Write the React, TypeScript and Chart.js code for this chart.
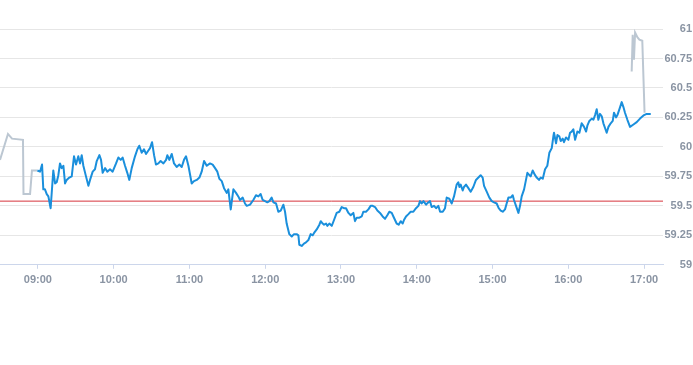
import React, { useEffect, useRef } from "react";
import { Chart, registerables } from "chart.js";

Chart.register(...registerables);

// Minutes since midnight and prices
const preMarketTimes = [510, 516.3, 519.5, 528.2, 528.6, 533.8, 535.3, 539.6];
const preMarketPrices = [59.89, 60.11, 60.07, 60.06, 59.6, 59.6, 59.8, 59.8];

const sessionTimes = [
  539.6, 541.7, 543.3, 544.3, 545.6, 547.0, 548.3, 550.1, 552.2, 553.6, 554.9, 556.2, 557.5, 558.8, 560.2, 561.5,
  562.8, 564.9, 566.8, 568.6, 570.2, 572.0, 573.4, 574.7, 576.0, 578.1, 580.0, 581.3, 583.4, 585.2, 586.6, 588.7,
  590.0, 591.3, 593.2, 595.0, 597.1, 599.2, 601.9, 603.7, 605.6, 607.1, 609.0, 610.8, 612.4, 614.3, 616.9, 618.8,
  620.3, 622.2, 624.0, 625.6, 627.5, 628.8, 630.4, 632.0, 633.5, 635.4, 637.2, 639.4, 641.5, 642.5, 644.1, 646.0,
  647.8, 649.9, 652.0, 653.9, 655.7, 657.3, 659.2, 661.8, 663.6, 665.8, 667.9, 669.7, 671.6, 673.7, 676.3, 678.4,
  680.3, 682.1, 683.7, 685.6, 687.4, 689.5, 690.8, 692.7, 694.8, 696.9, 698.7, 700.1, 702.2, 704.0, 705.4, 708.0,
  710.6, 712.7, 714.6, 716.4, 718.0, 719.9, 721.7, 723.3, 725.1, 726.5, 728.6, 730.4, 732.3, 734.4, 735.7, 737.0,
  739.1, 741.0, 742.8, 744.9, 746.3, 747.0, 748.9, 750.7, 752.3, 754.2, 756.0, 757.6, 758.7, 760.8, 762.9, 764.0,
  765.5, 766.6, 768.2, 769.2, 770.8, 772.7, 774.5, 776.6, 778.7, 780.6, 782.4, 784.0, 785.9, 787.7, 789.8, 791.1,
  792.5, 794.6, 796.4, 797.7, 799.8, 801.7, 803.5, 805.1, 807.0, 808.8, 810.9, 813.0, 814.9, 816.7, 818.3, 820.2,
  821.5, 822.8, 824.1, 825.7, 827.3, 828.9, 829.9, 831.5, 833.4, 835.2, 837.3, 839.4, 841.3, 842.6, 843.9, 845.3,
  847.4, 849.2, 850.5, 851.8, 853.7, 855.3, 857.1, 858.5, 860.6, 862.4, 863.7, 865.8, 867.7, 869.5, 871.6, 872.9,
  873.8, 874.8, 876.4, 877.4, 879.0, 880.9, 882.7, 884.8, 886.9, 888.8, 890.6, 892.2, 893.3, 895.4, 897.5, 899.4,
  901.2, 903.3, 904.9, 906.5, 908.1, 909.9, 911.2, 912.6, 914.4, 916.0, 917.0, 918.6, 920.5, 921.8, 923.1, 925.0,
  926.5, 927.6, 929.2, 930.2, 931.8, 933.7, 935.0, 936.8, 938.2, 939.8, 941.6, 943.4, 945.0, 946.9, 948.2, 948.7,
  950.3, 951.4, 952.9, 954.0, 955.6, 956.6, 958.2, 960.1, 961.4, 962.7, 964.0, 965.4, 967.2, 968.8, 970.6, 972.5,
  974.1, 975.1, 976.7, 978.6, 979.9, 981.2, 982.5, 983.8, 985.1, 986.5, 987.8, 989.1, 990.4, 991.8, 993.6, 995.2,
  996.2, 997.8, 998.9, 1000.5, 1002.3, 1003.6, 1004.9, 1006.8, 1008.9, 1011.6, 1014.2, 1016.8, 1020.0, 1022.1, 1025.3,
];
const sessionPrices = [
  59.8, 59.79, 59.85, 59.64, 59.64, 59.6, 59.58, 59.48, 59.8, 59.69, 59.7, 59.76, 59.86, 59.82, 59.84, 59.69,
  59.72, 59.74, 59.75, 59.92, 59.85, 59.92, 59.86, 59.93, 59.84, 59.75, 59.67, 59.72, 59.79, 59.81, 59.88, 59.93,
  59.89, 59.78, 59.82, 59.79, 59.81, 59.79, 59.86, 59.91, 59.89, 59.91, 59.84, 59.78, 59.72, 59.82, 59.92, 59.98,
  60.01, 59.95, 59.98, 59.94, 59.97, 59.99, 60.04, 59.93, 59.85, 59.86, 59.88, 59.86, 59.89, 59.93, 59.89, 59.94,
  59.86, 59.83, 59.85, 59.83, 59.89, 59.92, 59.84, 59.69, 59.71, 59.72, 59.74, 59.79, 59.88, 59.84, 59.86, 59.85,
  59.82, 59.79, 59.73, 59.71, 59.65, 59.61, 59.64, 59.47, 59.64, 59.61, 59.58, 59.55, 59.57, 59.52, 59.5, 59.51,
  59.55, 59.59, 59.58, 59.6, 59.55, 59.54, 59.53, 59.54, 59.57, 59.53, 59.52, 59.45, 59.46, 59.51, 59.45, 59.35,
  59.26, 59.24, 59.26, 59.26, 59.25, 59.17, 59.16, 59.18, 59.19, 59.21, 59.26, 59.25, 59.27, 59.3, 59.34, 59.37,
  59.35, 59.34, 59.35, 59.33, 59.35, 59.33, 59.38, 59.44, 59.45, 59.49, 59.48, 59.48, 59.44, 59.42, 59.44, 59.37,
  59.4, 59.4, 59.41, 59.45, 59.45, 59.47, 59.5, 59.5, 59.49, 59.46, 59.44, 59.41, 59.39, 59.42, 59.45, 59.44,
  59.41, 59.38, 59.35, 59.34, 59.37, 59.35, 59.38, 59.41, 59.43, 59.45, 59.45, 59.48, 59.5, 59.54, 59.52, 59.54,
  59.51, 59.53, 59.54, 59.49, 59.5, 59.48, 59.5, 59.45, 59.45, 59.48, 59.57, 59.56, 59.52, 59.58, 59.68, 59.7,
  59.66, 59.68, 59.63, 59.66, 59.68, 59.65, 59.62, 59.66, 59.72, 59.74, 59.76, 59.74, 59.67, 59.62, 59.57, 59.54,
  59.53, 59.52, 59.48, 59.46, 59.45, 59.47, 59.52, 59.57, 59.57, 59.59, 59.55, 59.5, 59.44, 59.5, 59.58, 59.64,
  59.72, 59.78, 59.76, 59.75, 59.8, 59.76, 59.74, 59.72, 59.74, 59.73, 59.81, 59.84, 59.95, 59.99, 60.09, 60.12,
  60.03, 60.1, 60.09, 60.05, 60.07, 60.04, 60.08, 60.06, 60.12, 60.13, 60.15, 60.06, 60.13, 60.12, 60.2, 60.17,
  60.13, 60.18, 60.22, 60.24, 60.23, 60.27, 60.32, 60.23, 60.28, 60.26, 60.2, 60.16, 60.12, 60.17, 60.2, 60.22,
  60.29, 60.25, 60.27, 60.32, 60.38, 60.34, 60.29, 60.23, 60.17, 60.19, 60.21, 60.24, 60.27, 60.28, 60.28,
];

const afterHoursTimes = [1010.2, 1011.0, 1012.0, 1012.9, 1014.7, 1016.3, 1018.6, 1020.4];
const afterHoursPrices = [60.64, 60.95, 60.74, 60.97, 60.93, 60.91, 60.9, 60.29];

const previousClose = 59.54;

const timeTicks = [540, 600, 660, 720, 780, 840, 900, 960, 1020];
const priceTicks = [59, 59.25, 59.5, 59.75, 60, 60.25, 60.5, 60.75, 61];

const xMin = 510;
const xMax = 1035;

const toPoints = (xs: number[], ys: number[]) => xs.map((x, i) => ({ x, y: ys[i] }));
const fmtTime = (m: number) => {
  const h = Math.floor(m / 60);
  const mm = Math.round(m % 60);
  return String(h).padStart(2, "0") + ":" + String(mm).padStart(2, "0");
};

export default function App() {
  const ref = useRef<HTMLCanvasElement | null>(null);

  useEffect(() => {
    if (!ref.current) return;
    const tickFont = { family: "'Liberation Sans', Arial, sans-serif", size: 11, weight: "bold" as const };
    const chart = new Chart(ref.current, {
      type: "line",
      data: {
        datasets: [
          {
            data: toPoints(sessionTimes, sessionPrices),
            borderColor: "#1a8fdc",
            borderWidth: 2,
            pointRadius: 0,
            tension: 0,
            borderJoinStyle: "round",
          },
          {
            data: [
              { x: xMin, y: previousClose },
              { x: xMax, y: previousClose },
            ],
            borderColor: "#d6333b",
            borderWidth: 1,
            pointRadius: 0,
          },
          {
            data: toPoints(preMarketTimes, preMarketPrices),
            borderColor: "#bcc7d2",
            borderWidth: 2,
            pointRadius: 0,
            tension: 0,
          },
          {
            data: toPoints(afterHoursTimes, afterHoursPrices),
            borderColor: "#bcc7d2",
            borderWidth: 2,
            pointRadius: 0,
            tension: 0,
          },
        ],
      },
      options: {
        animation: false,
        responsive: true,
        maintainAspectRatio: false,
        layout: { padding: { top: 29, bottom: 73, left: 0, right: 1 } },
        plugins: { legend: { display: false }, tooltip: { enabled: false } },
        scales: {
          x: {
            type: "linear",
            min: xMin,
            max: xMax,
            afterBuildTicks: (scale: any) => {
              scale.ticks = timeTicks.map((v) => ({ value: v }));
            },
            grid: { drawOnChartArea: false, drawTicks: true, tickLength: 4, color: "#ccd6eb" },
            border: { display: true, color: "#ccd6eb" },
            ticks: {
              autoSkip: false,
              maxRotation: 0,
              padding: 5,
              color: "#8a94a3",
              font: tickFont,
              callback: (v: any) => fmtTime(Number(v)),
            },
          },
          y: {
            position: "right",
            min: 59,
            max: 61,
            afterBuildTicks: (scale: any) => {
              scale.ticks = priceTicks.map((v) => ({ value: v }));
            },
            afterFit: (scale: any) => {
              scale.width = 29;
            },
            grid: { color: "#e6e6e6", drawTicks: false },
            border: { display: false },
            ticks: {
              padding: 3,
              crossAlign: "far",
              color: "#8a94a3",
              font: tickFont,
              callback: (v: any) => String(Number(v)),
            },
          },
        },
      },
    });
    return () => chart.destroy();
  }, []);

  return (
    <div style={{ position: "absolute", left: 0, top: 0, width: 693, height: 365, background: "#fff" }}>
      <canvas ref={ref} />
    </div>
  );
}
